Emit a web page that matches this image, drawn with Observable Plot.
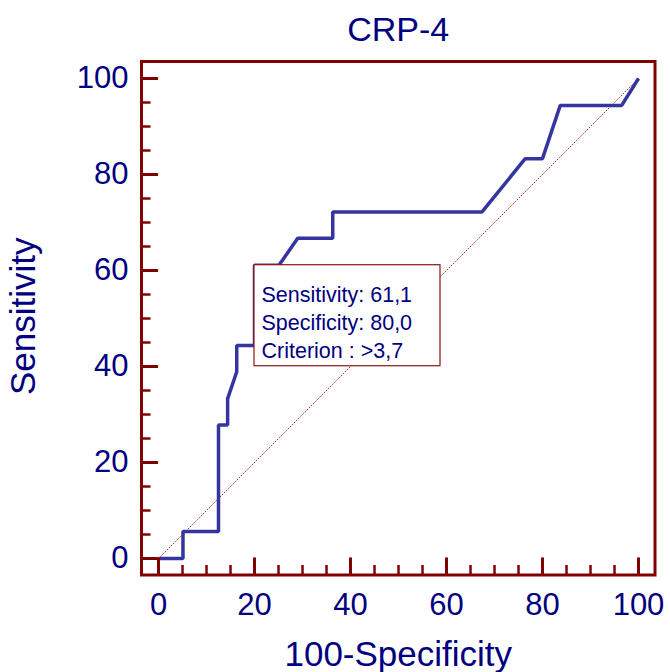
<!DOCTYPE html>
<html><head><meta charset="utf-8">
<script src="https://cdn.jsdelivr.net/npm/d3@7"></script>
<script src="https://cdn.jsdelivr.net/npm/@observablehq/plot@0.6"></script>
<style>html,body{margin:0;padding:0;background:#fff;}</style>
</head><body><div id="chart"></div>
<script>
const title = "CRP-4";
const xLabel = "100-Specificity";
const yLabel = "Sensitivity";
// ROC curve: 100-Specificity (x) vs Sensitivity (y)
const fpr = [0, 5.1, 5.1, 12.5, 12.5, 14.4, 14.4, 16.3, 16.3, 20, 20, 25.1, 29, 36.3, 36.3, 67.4, 76.4, 80, 83.7, 96.5, 100];
const tpr = [0, 0, 5.6, 5.6, 27.8, 27.8, 33.3, 38.9, 44.4, 44.4, 61.1, 61.1, 66.7, 66.7, 72.2, 72.2, 83.3, 83.3, 94.4, 94.4, 100];
// reference diagonal
const refX = [0, 100];
const refY = [0, 100];
// ticks
const majorTicks = [0, 20, 40, 60, 80, 100];
const minorTicks = [5, 10, 15, 25, 30, 35, 45, 50, 55, 65, 70, 75, 85, 90, 95];
// criterion annotation
const criterionX = [20];
const criterionY = [61.1];
const criterionLines = ["Sensitivity: 61,1", "Specificity: 80,0", "Criterion : >3,7"];

const W = 670, H = 672, mL = 141, mR = 15.5, mT = 61, mB = 97.5;
const frameW = W - mL - mR, frameH = H - mT - mB;
const maroon = "#800000", navy = "#000080";
const majorLen = 17, minorLen = 9.5;

const curve = fpr.map((x, i) => ({x, y: tpr[i]}));
const ref = refX.map((x, i) => ({x, y: refY[i]}));
const crit = criterionX.map((x, i) => ({x, y: criterionY[i], label: criterionLines.join("\n")}));

const chart = Plot.plot({
  width: W, height: H,
  marginLeft: mL, marginRight: mR, marginTop: mT, marginBottom: mB,
  style: {fontFamily: "'Liberation Sans', Arial, sans-serif", background: "#fff", overflow: "visible"},
  x: {domain: [0, 100], insetLeft: 17, insetRight: 16.5, axis: null},
  y: {domain: [0, 100], insetTop: 17, insetBottom: 16.5, axis: null},
  marks: [
    Plot.line(ref, {x: "x", y: "y", stroke: "#c0302a", strokeWidth: 1, strokeDasharray: "1,2"}),
    Plot.line(curve, {x: "x", y: "y", stroke: "#3535a0", strokeWidth: 3.5, strokeLinejoin: "miter", strokeLinecap: "butt"}),
    Plot.rect(crit, {x1: "x", x2: "x", y1: "y", y2: "y", fill: "white", stroke: "#8b1515", strokeWidth: 1.2, insetRight: -186, insetBottom: -101}),
    Plot.text(crit, {x: "x", y: "y", text: "label", textAnchor: "start", lineAnchor: "top", dx: 7, dy: 17, fontSize: 21.5, lineHeight: 1.3, fill: navy}),
    Plot.tickY(majorTicks, {y: d => d, stroke: maroon, strokeWidth: 3, insetRight: frameW - majorLen}),
    Plot.tickY(minorTicks, {y: d => d, stroke: maroon, strokeWidth: 2.5, insetRight: frameW - minorLen}),
    Plot.tickX(majorTicks, {x: d => d, stroke: maroon, strokeWidth: 3, insetTop: frameH - majorLen}),
    Plot.tickX(minorTicks, {x: d => d, stroke: maroon, strokeWidth: 2.5, insetTop: frameH - minorLen}),
    Plot.frame({stroke: maroon, strokeWidth: 3}),
    Plot.text(majorTicks, {y: d => d, text: d => String(d), frameAnchor: "left", textAnchor: "end", lineAnchor: "middle", dx: -13, fontSize: 31, fill: navy}),
    Plot.text(majorTicks, {x: d => d, text: d => String(d), frameAnchor: "bottom", textAnchor: "middle", lineAnchor: "middle", dy: 30.5, fontSize: 31, fill: navy}),
    Plot.text([title], {text: d => d, frameAnchor: "top", textAnchor: "middle", lineAnchor: "middle", dy: -31, fontSize: 34, fill: navy}),
    Plot.text([xLabel], {text: d => d, frameAnchor: "bottom", textAnchor: "middle", lineAnchor: "middle", dy: 79.5, fontSize: 35, fill: navy}),
    Plot.text([yLabel], {text: d => d, frameAnchor: "left", textAnchor: "middle", lineAnchor: "middle", rotate: -90, dx: -117.5, dy: -2, fontSize: 35, fill: navy})
  ]
});
document.getElementById("chart").appendChild(chart);
</script>
</body></html>
